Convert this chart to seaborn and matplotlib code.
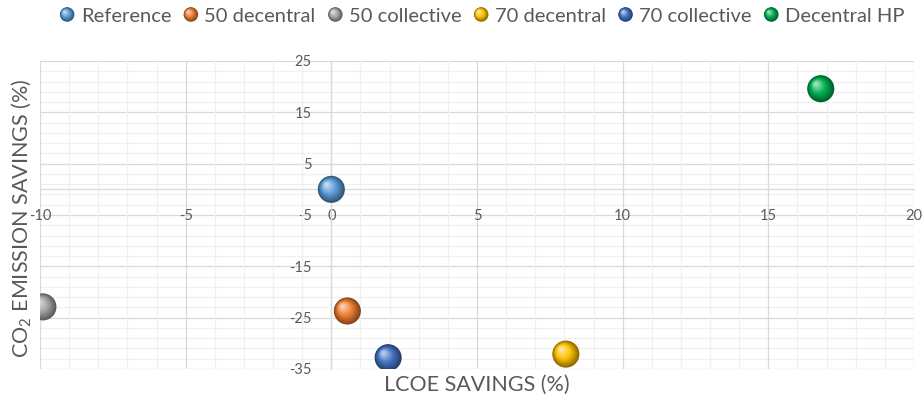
import numpy as np
import pandas as pd
import matplotlib
matplotlib.use("Agg")
import matplotlib.pyplot as plt
import matplotlib.colors as mcolors
from matplotlib.transforms import ScaledTranslation
from matplotlib.legend_handler import HandlerBase
from matplotlib.patches import Circle
from matplotlib.lines import Line2D
import seaborn as sns

# Scenario results
scenarios = ["Reference", "50 decentral", "50 collective", "70 decentral", "70 collective", "Decentral HP"]
lcoe_savings = [0.0, 0.55, -9.9, 8.05, 1.95, 16.8]
co2_savings = [0.0, -23.7, -22.9, -32.1, -32.8, 19.6]
colors = ["#5B9BD5", "#ED7D31", "#A5A5A5", "#FFC000", "#4472C4", "#00B050"]

x_ticks = [-10, -5, 0, 5, 10, 15, 20]
y_ticks = [-35, -25, -15, -5, 5, 15, 25]

sns.set_theme(style="white")
plt.rcParams["font.family"] = ["Lato", "DejaVu Sans"]
plt.rcParams["mathtext.fontset"] = "custom"
plt.rcParams["mathtext.rm"] = "Lato"
plt.rcParams["axes.unicode_minus"] = False

TEXT = "#595959"
MAJOR = "#D9D9D9"
MINOR = "#F0F0F0"

df = pd.DataFrame({"scenario": scenarios, "lcoe": lcoe_savings, "co2": co2_savings})

fig = plt.figure(figsize=(9.24, 4.03), dpi=100)
W, H = 924, 403
ax = fig.add_axes([40 / W, (H - 369) / H, (914 - 40) / W, (369 - 61) / H])
ax.set_xlim(-10, 20)
ax.set_ylim(-35, 25)


def shade(base, t):
    """Colour of a sphere layer: t=0 dark rim, t=0.5 base, t=1 highlight."""
    b = np.array(mcolors.to_rgb(base))
    dark = b * 0.55
    light = b + (1 - b) * 0.6
    if t < 0.5:
        return tuple(dark + (b - dark) * (t / 0.5))
    return tuple(b + (light - b) * ((t - 0.5) / 0.5))


# Sphere markers: stacked circles shrinking toward an upper-left highlight
D = 19.5  # marker diameter in points
n_layers = 14
for i in range(n_layers):
    t = i / (n_layers - 1)
    f = 1 - 0.85 * t
    off = 0.35 * (D / 2) * t
    pal = {s: shade(c, t) for s, c in zip(scenarios, colors)}
    sns.scatterplot(data=df, x="lcoe", y="co2", hue="scenario", palette=pal,
                    s=(D * f) ** 2, edgecolor="none", linewidth=0, legend=False,
                    ax=ax, zorder=5 + i)
    coll = ax.collections[-1]
    coll.set_offset_transform(ax.transData + ScaledTranslation(-off / 72, off / 72, fig.dpi_scale_trans))

# Grid: minor lines only where there is no major line
ax.set_xticks(x_ticks)
ax.set_yticks(y_ticks)
ax.set_xticks([v for v in range(-10, 21) if v not in x_ticks], minor=True)
ax.set_yticks([v for v in range(-35, 26, 2) if v not in y_ticks], minor=True)
ax.grid(which="minor", color=MINOR, linewidth=0.9)
ax.grid(which="major", color=MAJOR, linewidth=0.9)
ax.set_axisbelow(True)
for ln in ax.get_xgridlines() + ax.get_ygridlines():
    ln.set_clip_on(False)
# horizontal lines beneath the vertical ones and the x tick labels
ax.yaxis.set_zorder(0.4)
ax.xaxis.set_zorder(0.6)

# Axes cross at the origin
for side in ["top", "right"]:
    ax.spines[side].set_visible(False)
ax.spines["left"].set_position(("data", 0))
ax.spines["bottom"].set_position(("data", 0))
for side in ["left", "bottom"]:
    ax.spines[side].set_color(MAJOR)
    ax.spines[side].set_linewidth(0.9)
    ax.spines[side].set_zorder(2)
ax.tick_params(which="both", length=0, pad=14, labelsize=10.5, labelcolor=TEXT)
ax.set_xticklabels([str(v) for v in x_ticks])
ax.set_yticklabels([str(v) for v in y_ticks])
ax.set_xlabel("")
ax.set_ylabel("")

fig.text(477 / W, 1 - 385 / H, "LCOE SAVINGS (%)", ha="center", va="center",
         fontsize=15.5, color=TEXT)
fig.text(22 / W, 1 - 218 / H, r"CO$_\mathregular{2}$ EMISSION SAVINGS (%)", ha="center",
         va="center", rotation=90, fontsize=15.5, color=TEXT)


class SphereHandler(HandlerBase):
    def create_artists(self, legend, orig_handle, xdescent, ydescent, width, height,
                       fontsize, trans):
        base = orig_handle.get_color()
        cx = width / 2 - xdescent
        cy = height / 2 - ydescent
        r = 0.36 * fontsize
        arts = []
        for i in range(n_layers):
            t = i / (n_layers - 1)
            f = 1 - 0.85 * t
            off = 0.35 * r * t
            c = Circle((cx - off, cy + off), r * f, facecolor=shade(base, t),
                       edgecolor="none", transform=trans)
            arts.append(c)
        return arts


handles = [Line2D([], [], color=c) for c in colors]
fig.legend(handles, scenarios, handler_map={Line2D: SphereHandler()},
           loc="center", bbox_to_anchor=(482 / W, 1 - 16 / H), ncol=6, frameon=False,
           fontsize=14.5, labelcolor=TEXT, handlelength=0.75, handletextpad=0.3,
           columnspacing=0.6, borderpad=0)

fig.savefig("out.png", dpi=100)
